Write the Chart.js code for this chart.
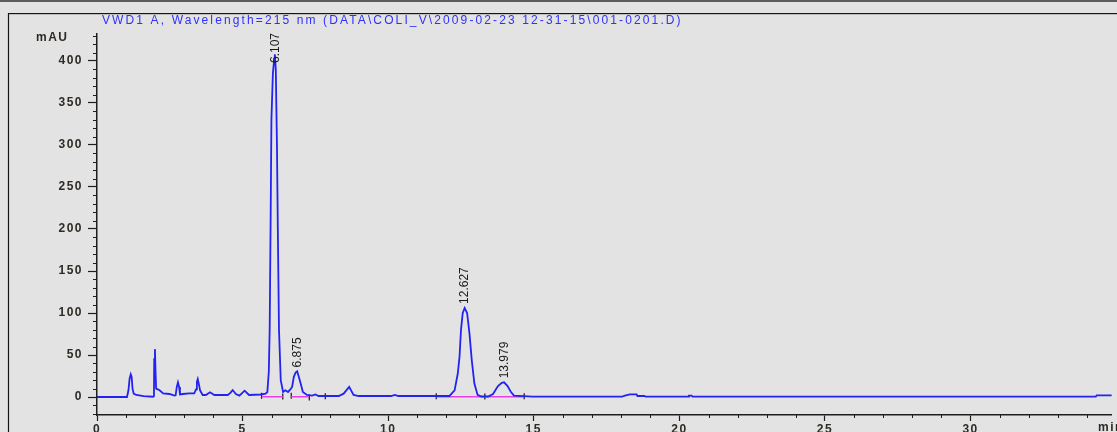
<!DOCTYPE html>
<html>
<head>
<meta charset="utf-8">
<title>VWD1 A chromatogram</title>
<script src="https://cdn.jsdelivr.net/npm/chart.js@4"></script>
<style>
  html, body { margin: 0; padding: 0; background: #e3e3e3; overflow: hidden; }
  #wrap { position: relative; width: 1117px; height: 432px; }
</style>
</head>
<body>
<div id="wrap"><canvas id="chrom"></canvas></div>
<script>
// detector trace: retention time (min) and response (mAU)
const retentionMin = [
  0, 1.03, 1.08, 1.12, 1.16, 1.19, 1.22, 1.26, 1.35, 1.6,
  1.92, 1.955, 1.965, 1.99, 2.01, 2.03, 2.15, 2.27, 2.49, 2.66,
  2.70, 2.74, 2.78, 2.82, 2.85, 2.95, 3.17, 3.34, 3.40, 3.43,
  3.46, 3.50, 3.54, 3.63, 3.74, 3.88, 4.03, 4.49, 4.58, 4.66,
  4.77, 4.89, 5.07, 5.22, 5.62, 5.79, 5.85, 5.90, 5.93, 5.96,
  5.99, 6.04, 6.08, 6.107, 6.14, 6.18, 6.21, 6.25, 6.31, 6.39,
  6.47, 6.56, 6.64, 6.70, 6.76, 6.82, 6.875, 6.93, 6.99, 7.07,
  7.21, 7.39, 7.50, 7.61, 8.30, 8.47, 8.66, 8.81, 8.99, 10.1,
  10.23, 10.35, 12.1, 12.28, 12.39, 12.45, 12.50, 12.56, 12.627, 12.71,
  12.79, 12.87, 12.96, 13.07, 13.2, 13.43, 13.6, 13.77, 13.9, 13.979,
  14.1, 14.21, 14.32, 14.66, 14.95, 18.04, 18.1, 18.3, 18.53, 18.56,
  18.8, 18.84, 20.3, 20.33, 20.42, 20.45, 34.3, 34.33, 34.85
];
const signalMAU = [
  0, 0, 8, 22, 27, 24, 10, 4, 2.4, 1,
  0.3, 1, 45, 57, 30, 10, 8, 4.4, 3.6, 1.6,
  2, 12, 17.5, 12, 3, 3.6, 4.4, 4.4, 9, 18,
  21.4, 15, 7.9, 2.4, 2.4, 5.6, 2.4, 2.4, 5, 8.3,
  3.6, 1.6, 7.5, 2.4, 3, 4, 6, 30, 80, 200,
  330, 385, 400, 408, 390, 300, 200, 80, 20, 6,
  8, 6, 9, 12, 24, 29, 30.5, 24, 16.7, 6,
  2.4, 1.6, 3, 1.2, 1.2, 4, 12, 2.4, 1.2, 1.2,
  2.4, 1.2, 1.2, 8, 28, 48, 80, 100, 106, 100,
  76, 44, 16, 2.5, 0.6, 0.6, 3.6, 13, 17, 17.5,
  13, 6.3, 1.6, 1, 0.4, 0.4, 1.5, 3.2, 3.2, 1.2,
  1.2, 0.4, 0.4, 1.6, 1.6, 0.4, 0.4, 2, 2
];

// integrated peaks, labelled with their retention time
const peakTimes = [6.107, 6.875, 12.627, 13.979];

// integration baselines, null splits the segments
const baselineMin = [5.65, 6.38, 6.5, 6.67, 7.27, 9, 11.65, 14.67];
const baselineMAU = [0.4, 0.4, null, 0.4, 0.4, null, 0.4, 0.4];

// integration event marks
const eventMin = [5.65, 6.38, 6.67, 7.29, 7.84, 11.65, 13.32, 14.67];
const eventMAU = [1.5, 0.5, 1.5, -0.5, 1, 1, 0.5, 1];

const xRange = [0, 34.85];
const yRange = [-21.4, 432.1];
const xMajor = 5;
const yMajor = 50;

const titleText = "VWD1 A, Wavelength=215 nm (DATA\\COLI_V\\2009-02-23 12-31-15\\001-0201.D)";
const yUnit = "mAU";
const xUnit = "min";

const axisInk = "#1e1e1e";
const labelInk = "#2e2a24";

function pairs(xs, ys) {
  return xs.map((x, i) => ({ x: x, y: ys[i] }));
}

// panel background, window frame, spaced tick text
const framePlugin = {
  id: "frame",
  beforeDraw(chart) {
    const ctx = chart.ctx;
    ctx.save();
    ctx.fillStyle = "#e3e3e3";
    ctx.fillRect(0, 0, chart.width, chart.height);
    ctx.fillStyle = "#5c5c5c";
    ctx.fillRect(0, 0, chart.width, 2);
    ctx.strokeStyle = "#151515";
    ctx.lineWidth = 1.2;
    ctx.beginPath();
    ctx.moveTo(8.5, chart.height);
    ctx.lineTo(8.5, 13.5);
    ctx.lineTo(chart.width, 13.5);
    ctx.stroke();
    ctx.strokeStyle = "#bdbdbd";
    ctx.lineWidth = 1;
    ctx.beginPath();
    ctx.moveTo(9, 14.5);
    ctx.lineTo(chart.width, 14.5);
    ctx.stroke();
    ctx.restore();
    ctx.letterSpacing = "1.5px";
  }
};

// minor ticks, title, units and peak annotations
const decorPlugin = {
  id: "decor",
  afterDraw(chart) {
    const ctx = chart.ctx;
    const xs = chart.scales.x;
    const ys = chart.scales.y;
    const area = chart.chartArea;
    ctx.save();

    ctx.strokeStyle = axisInk;
    ctx.lineWidth = 1;
    ctx.beginPath();
    ys.ticks.forEach(t => {
      if (t.value % yMajor === 0) return;
      const py = Math.round(ys.getPixelForValue(t.value)) + 0.5;
      ctx.moveTo(area.left - 4, py);
      ctx.lineTo(area.left, py);
    });
    xs.ticks.forEach(t => {
      if (t.value % xMajor === 0) return;
      const px = Math.round(xs.getPixelForValue(t.value)) + 0.5;
      ctx.moveTo(px, area.bottom);
      ctx.lineTo(px, area.bottom + 3);
    });
    ctx.stroke();

    ctx.font = "12px Arial";
    ctx.letterSpacing = "0px";
    const plain = ctx.measureText(titleText).width;
    ctx.letterSpacing = ((581 - plain) / titleText.length).toFixed(2) + "px";
    ctx.fillStyle = "#3030ff";
    ctx.textBaseline = "middle";
    ctx.textAlign = "left";
    ctx.fillText(titleText, area.left + 5, 21);

    ctx.font = "bold 12px Arial";
    ctx.letterSpacing = "1.5px";
    ctx.fillStyle = labelInk;
    ctx.fillText(yUnit, 36, 38);
    ctx.fillText(xUnit, 1098, 428);

    ctx.font = "12px Arial";
    ctx.letterSpacing = "0px";
    ctx.fillStyle = "#1a1a1a";
    peakTimes.forEach(t => {
      const i = retentionMin.indexOf(t);
      const px = xs.getPixelForValue(t);
      const py = ys.getPixelForValue(signalMAU[i]);
      const txt = t.toFixed(3);
      const len = ctx.measureText(txt).width;
      let base = py - 4;
      if (base - len < area.top - 1) base = area.top - 1 + len;
      ctx.save();
      ctx.translate(px + 0.5, base);
      ctx.rotate(-Math.PI / 2);
      ctx.textAlign = "left";
      ctx.textBaseline = "middle";
      ctx.fillText(txt, 0, 0);
      ctx.restore();
    });

    ctx.restore();
    ctx.letterSpacing = "0px";
  }
};

new Chart(document.getElementById("chrom"), {
  type: "line",
  data: {
    datasets: [
      {
        label: "VWD1 A",
        data: pairs(retentionMin, signalMAU),
        borderColor: "#2222f2",
        borderWidth: 1.8,
        pointRadius: 0,
        tension: 0,
        order: 0
      },
      {
        label: "baseline",
        data: pairs(baselineMin, baselineMAU),
        borderColor: "#e83ee8",
        borderWidth: 1.4,
        pointRadius: 0,
        spanGaps: false,
        order: 1
      },
      {
        label: "events",
        data: pairs(eventMin, eventMAU),
        showLine: false,
        pointStyle: "line",
        rotation: 90,
        pointRadius: 3,
        borderColor: "#111111",
        borderWidth: 1.2,
        order: 2
      }
    ]
  },
  options: {
    responsive: true,
    maintainAspectRatio: false,
    animation: false,
    events: [],
    layout: { padding: { left: 0, right: 0, top: 34, bottom: 0 } },
    plugins: {
      legend: { display: false },
      tooltip: { enabled: false },
      title: { display: false }
    },
    scales: {
      x: {
        type: "linear",
        min: xRange[0],
        max: xRange[1],
        afterFit(s) { s.height = 17; },
        border: { color: axisInk, width: 1.5 },
        grid: {
          drawOnChartArea: false,
          tickLength: 6,
          tickWidth: 1.2,
          tickColor: c => (c.tick && c.tick.value % xMajor === 0) ? axisInk : "transparent"
        },
        ticks: {
          stepSize: 1,
          includeBounds: false,
          autoSkip: false,
          maxRotation: 0,
          padding: 1,
          color: labelInk,
          font: { family: "Arial", size: 12, weight: "bold" },
          callback: v => v % xMajor === 0 ? String(v) : ""
        }
      },
      y: {
        type: "linear",
        min: yRange[0],
        max: yRange[1],
        afterFit(s) { s.width = 97; },
        border: { color: axisInk, width: 1.5 },
        grid: {
          drawOnChartArea: false,
          tickLength: 9,
          tickWidth: 1.2,
          tickColor: c => (c.tick && c.tick.value % yMajor === 0) ? axisInk : "transparent"
        },
        ticks: {
          stepSize: 10,
          includeBounds: false,
          autoSkip: false,
          padding: 5,
          color: labelInk,
          font: { family: "Arial", size: 12, weight: "bold" },
          callback: v => v % yMajor === 0 ? String(v) : ""
        }
      }
    }
  },
  plugins: [framePlugin, decorPlugin]
});
</script>
</body>
</html>
